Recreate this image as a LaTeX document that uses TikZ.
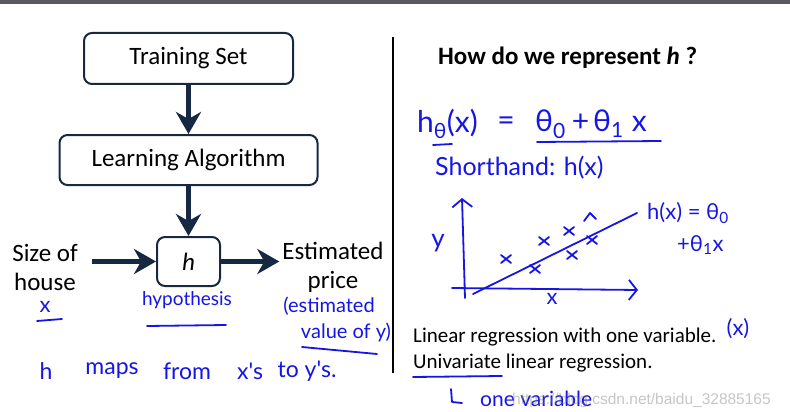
\documentclass[tikz,border=0pt]{standalone}
\usepackage{fontspec}
\setmainfont{Carlito}
\newfontfamily\handfont{Lato}
\newfontfamily\markfont{Liberation Sans}
\usetikzlibrary{arrows.meta,positioning}
\definecolor{boxnavy}{RGB}{23,40,66}
\definecolor{inkblue}{RGB}{22,22,228}
\definecolor{bargray}{RGB}{88,88,96}
\tikzset{
  stepbox/.style={draw=boxnavy, line width=2pt, rounded corners=8pt, inner sep=0pt,
    font=\fontsize{25}{30}\selectfont},
  flow/.style={draw=boxnavy, line width=4.5pt, -{Stealth[length=22pt,width=25pt,inset=7pt]}},
  ink/.style={draw=inkblue, line width=1.8pt, line cap=round, line join=round},
  hand/.style={text=inkblue, inner sep=0pt, font=\handfont\fontsize{20}{24}\selectfont},
  plain/.style={inner sep=0pt, align=center, font=\fontsize{25}{29}\selectfont},
}
\begin{document}
\begin{tikzpicture}[x=1pt,y=-1pt]
\useasboundingbox (0,0) rectangle (790,412);
\fill[bargray] (0,0) rectangle (790,4);
% left: the learning pipeline
\node[stepbox, minimum width=209pt, minimum height=51pt] (train) at (188.5,58.5) {Training Set};
\node[stepbox, minimum width=258pt, minimum height=50pt, below=49pt of train] (learn) {Learning Algorithm};
\node[stepbox, minimum width=63pt, minimum height=49pt, below=50pt of learn] (hyp) {\itshape h};
\node[plain] (size) at (45,267) {Size of\\house};
\node[plain] (est) at (333,267) {Estimated\\price};
\coordinate (in) at (92,0);
\draw[flow] (train) -- (learn);
\draw[flow] (learn) -- (hyp);
\draw[flow] (in |- hyp) -- (hyp.west);
\draw[flow] (hyp.east) -- ([xshift=-3pt]est.west |- hyp);
% handwritten notes
\node[hand, font=\handfont\fontsize{22}{26}\selectfont] (xin) at (45,307) {x};
\draw[ink] (37,321) -- (62,319);
\node[hand, font=\handfont\fontsize{19}{22}\selectfont] (hypo) at (187,300) {hypothesis};
\draw[ink] (147,326) -- (226,325);
\node[hand] (estv) at (329,306) {(estimated};
\node[hand] (valy) at (346,332) {value of y)};
\draw[ink] (302,347) -- (377,354);
\foreach \word/\px in {h/46, maps/112, from/187, x's/250, {to y's.}/307}
  \node[hand, font=\handfont\fontsize{23}{26}\selectfont] at (\px,371) {\word};
% divider
\draw[line width=1.3pt] (393,37) -- (393,373);
% right: the hypothesis
\node[inner sep=0pt, anchor=west, font=\bfseries\fontsize{25}{30}\selectfont] (title) at (438,58) {How do we represent \textit{h} ?};
\node[hand, anchor=west, font=\handfont\fontsize{30}{34}\selectfont] (hdef) at (417,124) {h\textsubscript{θ}(x)};
\node[hand, font=\handfont\fontsize{30}{34}\selectfont] (eq) at (506,124) {=};
\node[hand, anchor=west, font=\handfont\fontsize{30}{34}\selectfont] (rhs) at (535,124) {θ\textsubscript{0}\hspace{6pt}+\hspace{4pt}θ\textsubscript{1}\hspace{8pt}x};
\draw[ink] (537,142) -- (661,141);
\draw[ink] (433,145) -- (452,144);
\node[hand, anchor=west, font=\handfont\fontsize{25}{30}\selectfont] (short) at (435,168) {Shorthand: h(x)};
% sketch of the fit
\draw[ink, -{Straight Barb[length=8pt,width=20pt]}] (465,298) -- (462,198);
\draw[ink, -{Straight Barb[length=8pt,width=20pt]}] (452,288) -- (638,290);
\draw[ink] (473,294) -- (637,213);
\node[hand, font=\handfont\fontsize{26}{28}\selectfont] (ylab) at (438,243) {y};
\node[hand, font=\handfont\fontsize{22}{26}\selectfont] (xlab) at (552,299) {x};
\foreach \px/\py in {506/259, 544/241, 569/231, 592/240, 572/255, 535/269}
  \draw[ink] (\px,\py) ++(-5,-4) -- ++(10,8) ++(-10,0) -- ++(10,-8);
\draw[ink] (584,221) -- (590,213) -- (596,219);
\node[hand, anchor=west, font=\handfont\fontsize{22}{26}\selectfont] (hx) at (647,213) {h(x) = θ\textsubscript{0}};
\node[hand, anchor=west, font=\handfont\fontsize{22}{26}\selectfont] (hx1) at (677,245) {+θ\textsubscript{1}x};
% text lines
\node[inner sep=0pt, anchor=west, font=\fontsize{21}{25}\selectfont] (lin) at (413,337) {Linear regression with one variable.};
\node[inner sep=0pt, anchor=west, font=\fontsize{21}{25}\selectfont] (uni) at (413,363) {Univariate linear regression.};
\node[hand, font=\handfont\fontsize{22}{26}\selectfont] (xvar) at (738,329) {(x)};
\draw[ink] (413,377) -- (502,376);
\draw[ink] (451,389) -- (452,402) -- (462,403);
\node[hand, anchor=west, font=\handfont\fontsize{21}{24}\selectfont] (onev) at (480,399) {one variable};
\node[inner sep=0pt, anchor=west, text=gray, text opacity=0.45, font=\markfont\fontsize{15.5}{18}\selectfont] (mark) at (512,400) {https://blog.csdn.net/baidu\_32885165};
\end{tikzpicture}
\end{document}
